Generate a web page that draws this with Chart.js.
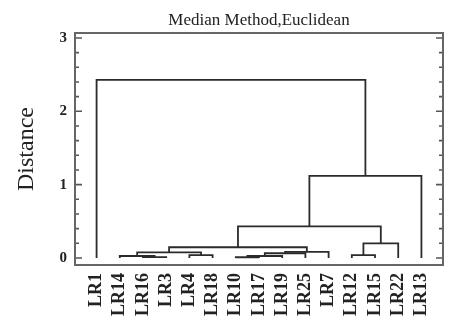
<!DOCTYPE html>
<html>
<head>
<meta charset="utf-8">
<script src="https://cdn.jsdelivr.net/npm/chart.js@4.4.1/dist/chart.umd.min.js"></script>
<style>
  html, body { margin: 0; padding: 0; background: #fff; }
</style>
</head>
<body>
<canvas id="dendro" width="462" height="331"></canvas>
<script>
// leaves, left to right as they appear under the tree
const leaves = ["LR1", "LR14", "LR16", "LR3", "LR4", "LR18", "LR10", "LR17",
  "LR19", "LR25", "LR7", "LR12", "LR15", "LR22", "LR13"];

// merge steps: node ids >= leaves.length refer to earlier merges (15, 16, ...)
const mergeLeft   = [2, 1, 4, 16, 6, 19, 20, 21, 18, 11, 24, 23, 26, 0];
const mergeRight  = [3, 15, 5, 17, 7, 8, 9, 10, 22, 12, 13, 25, 14, 27];
const mergeHeight = [0.012, 0.027, 0.04, 0.075, 0.01, 0.027, 0.064, 0.082,
  0.146, 0.04, 0.2, 0.43, 1.12, 2.43];

const yMajor = [0, 1, 2, 3];
const yMinorStep = 0.2;

const serif = "'Liberation Serif', 'DejaVu Serif', serif";
const lineColor = "#2b2b2b";

// build one U-shaped link per merge
const nodeX = leaves.map((_, i) => i);
const nodeH = leaves.map(() => 0);
const datasets = [];
mergeLeft.forEach((a, k) => {
  const b = mergeRight[k];
  const h = mergeHeight[k];
  datasets.push({
    data: [
      { x: nodeX[a], y: nodeH[a] },
      { x: nodeX[a], y: h },
      { x: nodeX[b], y: h },
      { x: nodeX[b], y: nodeH[b] },
    ],
    showLine: true,
    borderColor: lineColor,
    borderWidth: 1.8,
    pointRadius: 0,
    tension: 0,
  });
  nodeX.push((nodeX[a] + nodeX[b]) / 2);
  nodeH.push(h);
});

// y tick values incl. minor ones
const yTickValues = [];
for (let v = yMajor[0]; v <= yMajor[yMajor.length - 1] + 1e-9; v += yMinorStep) {
  yTickValues.push(Math.round(v * 10) / 10);
}

const frameAndTicks = {
  id: "frameAndTicks",
  afterDraw(chart) {
    const { ctx, chartArea } = chart;
    const y = chart.scales.y;
    ctx.save();
    ctx.strokeStyle = "#555";
    ctx.lineWidth = 1.6;
    yTickValues.forEach((v) => {
      const py = y.getPixelForValue(v);
      const len = yMajor.includes(v) ? 7 : 4;
      ctx.beginPath();
      ctx.moveTo(chartArea.left, py);
      ctx.lineTo(chartArea.left + len, py);
      ctx.moveTo(chartArea.right, py);
      ctx.lineTo(chartArea.right - len, py);
      ctx.stroke();
    });
    ctx.strokeStyle = "#666";
    ctx.lineWidth = 2;
    ctx.strokeRect(chartArea.left, chartArea.top,
      chartArea.right - chartArea.left, chartArea.bottom - chartArea.top);
    ctx.restore();
  },
};

new Chart(document.getElementById("dendro").getContext("2d"), {
  type: "scatter",
  data: { datasets: datasets },
  options: {
    responsive: false,
    animation: false,
    layout: { padding: { left: 0, right: 19, top: 0, bottom: 0 } },
    plugins: {
      legend: { display: false },
      tooltip: { enabled: false },
      title: {
        display: true,
        text: "Median Method,Euclidean",
        fullSize: false,
        color: "#222",
        font: { family: serif, size: 17, weight: "normal" },
        padding: { top: 10, bottom: 2.6 },
      },
    },
    scales: {
      x: {
        type: "linear",
        min: -0.93,
        max: 14.93,
        afterBuildTicks: (axis) => {
          axis.ticks = leaves.map((_, i) => ({ value: i }));
        },
        afterFit: (scale) => {
          scale.height = 66;
        },
        grid: { display: false, drawTicks: false },
        border: { display: false },
        ticks: {
          autoSkip: false,
          minRotation: 90,
          maxRotation: 90,
          padding: 8,
          color: "#222",
          font: { family: serif, size: 18, weight: "bold" },
          callback: (v) => leaves[v],
        },
      },
      y: {
        min: -0.096,
        max: 3.068,
        afterBuildTicks: (axis) => {
          axis.ticks = yTickValues.map((v) => ({ value: v }));
        },
        afterFit: (scale) => {
          scale.width = 75;
        },
        grid: { display: false, drawTicks: false },
        border: { display: false },
        title: {
          display: true,
          text: "Distance",
          color: "#222",
          font: { family: serif, size: 24, weight: "normal" },
          padding: { top: 12, bottom: 0 },
        },
        ticks: {
          autoSkip: false,
          padding: 8,
          color: "#222",
          font: { family: serif, size: 15, weight: "bold" },
          callback: (v) => (yMajor.includes(v) ? String(v) : ""),
        },
      },
    },
  },
  plugins: [frameAndTicks],
});
</script>
</body>
</html>
